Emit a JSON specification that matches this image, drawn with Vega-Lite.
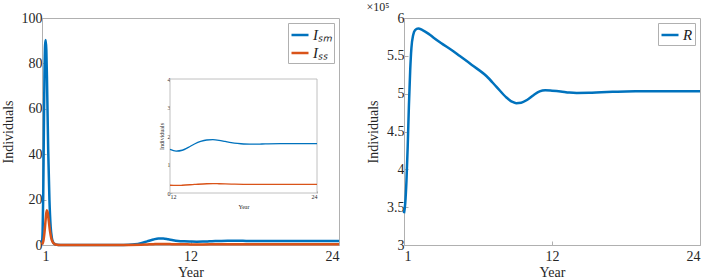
{
  "$schema": "https://vega.github.io/schema/vega-lite/v6.json",
  "padding": {"left": 0, "top": 0, "right": 0, "bottom": 0},
  "bounds": "flush",
  "spacing": 65,
  "config": {
    "font": "Liberation Serif",
    "view": {"stroke": "#b0b0b0", "strokeWidth": 1},
    "axis": {
      "labelFont": "Liberation Serif",
      "labelFontSize": 14,
      "labelColor": "#262626",
      "titleFont": "Liberation Serif",
      "titleFontSize": 14,
      "titleFontWeight": "normal",
      "titleColor": "#262626",
      "domainColor": "#b0b0b0",
      "tickColor": "#b0b0b0",
      "tickSize": -4,
      "grid": false,
      "labelPadding": 4
    },
    "legend": {
      "orient": "top-right",
      "offset": 5,
      "strokeColor": "#b0b0b0",
      "fillColor": "white",
      "padding": 2,
      "symbolType": "stroke",
      "symbolStrokeWidth": 2.5,
      "symbolSize": 289,
      "labelFont": "Liberation Serif",
      "labelFontSize": 15,
      "labelFontStyle": "italic",
      "labelColor": "#222222",
      "rowPadding": 0,
      "labelOffset": 3
    }
  },
  "datasets": {
    "infected": [
      {"t": 0, "series": "I_SM", "value": 1.0},
      {"t": 0.05, "series": "I_SM", "value": 6},
      {"t": 0.1, "series": "I_SM", "value": 22},
      {"t": 0.15, "series": "I_SM", "value": 50},
      {"t": 0.2, "series": "I_SM", "value": 75},
      {"t": 0.25, "series": "I_SM", "value": 88},
      {"t": 0.3, "series": "I_SM", "value": 90.3},
      {"t": 0.35, "series": "I_SM", "value": 86},
      {"t": 0.4, "series": "I_SM", "value": 74},
      {"t": 0.45, "series": "I_SM", "value": 58},
      {"t": 0.5, "series": "I_SM", "value": 42},
      {"t": 0.6, "series": "I_SM", "value": 20},
      {"t": 0.7, "series": "I_SM", "value": 8},
      {"t": 0.8, "series": "I_SM", "value": 3},
      {"t": 0.9, "series": "I_SM", "value": 1.2},
      {"t": 1.0, "series": "I_SM", "value": 0.5},
      {"t": 1.2, "series": "I_SM", "value": 0.12},
      {"t": 1.5, "series": "I_SM", "value": 0.04},
      {"t": 2, "series": "I_SM", "value": 0.02},
      {"t": 3, "series": "I_SM", "value": 0.01},
      {"t": 4, "series": "I_SM", "value": 0.01},
      {"t": 5, "series": "I_SM", "value": 0.01},
      {"t": 6, "series": "I_SM", "value": 0.02},
      {"t": 6.5, "series": "I_SM", "value": 0.04},
      {"t": 7, "series": "I_SM", "value": 0.1},
      {"t": 7.5, "series": "I_SM", "value": 0.3},
      {"t": 8, "series": "I_SM", "value": 0.8},
      {"t": 8.5, "series": "I_SM", "value": 1.6},
      {"t": 9, "series": "I_SM", "value": 2.4},
      {"t": 9.4, "series": "I_SM", "value": 2.9},
      {"t": 9.8, "series": "I_SM", "value": 2.85},
      {"t": 10.2, "series": "I_SM", "value": 2.5},
      {"t": 10.6, "series": "I_SM", "value": 2.1},
      {"t": 11, "series": "I_SM", "value": 1.8},
      {"t": 11.5, "series": "I_SM", "value": 1.62},
      {"t": 12, "series": "I_SM", "value": 1.53},
      {"t": 12.5, "series": "I_SM", "value": 1.47},
      {"t": 13, "series": "I_SM", "value": 1.5},
      {"t": 13.5, "series": "I_SM", "value": 1.6},
      {"t": 14, "series": "I_SM", "value": 1.72},
      {"t": 14.5, "series": "I_SM", "value": 1.81},
      {"t": 15, "series": "I_SM", "value": 1.86},
      {"t": 15.5, "series": "I_SM", "value": 1.87},
      {"t": 16, "series": "I_SM", "value": 1.85},
      {"t": 16.5, "series": "I_SM", "value": 1.81},
      {"t": 17, "series": "I_SM", "value": 1.77},
      {"t": 17.5, "series": "I_SM", "value": 1.74},
      {"t": 18, "series": "I_SM", "value": 1.72},
      {"t": 18.5, "series": "I_SM", "value": 1.715},
      {"t": 19, "series": "I_SM", "value": 1.715},
      {"t": 19.5, "series": "I_SM", "value": 1.72},
      {"t": 20, "series": "I_SM", "value": 1.725},
      {"t": 21, "series": "I_SM", "value": 1.73},
      {"t": 22, "series": "I_SM", "value": 1.735},
      {"t": 23, "series": "I_SM", "value": 1.735},
      {"t": 24, "series": "I_SM", "value": 1.735},
      {"t": 0, "series": "I_SS", "value": 0.3},
      {"t": 0.1, "series": "I_SS", "value": 1.5},
      {"t": 0.2, "series": "I_SS", "value": 5.5},
      {"t": 0.3, "series": "I_SS", "value": 11.5},
      {"t": 0.38, "series": "I_SS", "value": 15.3},
      {"t": 0.45, "series": "I_SS", "value": 14.5},
      {"t": 0.55, "series": "I_SS", "value": 10.5},
      {"t": 0.65, "series": "I_SS", "value": 6},
      {"t": 0.75, "series": "I_SS", "value": 3},
      {"t": 0.85, "series": "I_SS", "value": 1.4},
      {"t": 1.0, "series": "I_SS", "value": 0.5},
      {"t": 1.2, "series": "I_SS", "value": 0.15},
      {"t": 1.5, "series": "I_SS", "value": 0.05},
      {"t": 2, "series": "I_SS", "value": 0.02},
      {"t": 4, "series": "I_SS", "value": 0.01},
      {"t": 6, "series": "I_SS", "value": 0.01},
      {"t": 7, "series": "I_SS", "value": 0.03},
      {"t": 8, "series": "I_SS", "value": 0.12},
      {"t": 8.5, "series": "I_SS", "value": 0.25},
      {"t": 9, "series": "I_SS", "value": 0.36},
      {"t": 9.5, "series": "I_SS", "value": 0.44},
      {"t": 10, "series": "I_SS", "value": 0.44},
      {"t": 10.5, "series": "I_SS", "value": 0.38},
      {"t": 11, "series": "I_SS", "value": 0.32},
      {"t": 11.5, "series": "I_SS", "value": 0.285},
      {"t": 12, "series": "I_SS", "value": 0.272},
      {"t": 12.5, "series": "I_SS", "value": 0.265},
      {"t": 13, "series": "I_SS", "value": 0.272},
      {"t": 14, "series": "I_SS", "value": 0.3},
      {"t": 15, "series": "I_SS", "value": 0.325},
      {"t": 15.5, "series": "I_SS", "value": 0.33},
      {"t": 16, "series": "I_SS", "value": 0.325},
      {"t": 17, "series": "I_SS", "value": 0.312},
      {"t": 18, "series": "I_SS", "value": 0.303},
      {"t": 19, "series": "I_SS", "value": 0.3},
      {"t": 20, "series": "I_SS", "value": 0.3},
      {"t": 22, "series": "I_SS", "value": 0.302},
      {"t": 24, "series": "I_SS", "value": 0.302}
    ],
    "recovered": [
      {"t": 0, "series": "R", "value": 342000},
      {"t": 0.1, "series": "R", "value": 355000},
      {"t": 0.2, "series": "R", "value": 385000},
      {"t": 0.3, "series": "R", "value": 430000},
      {"t": 0.4, "series": "R", "value": 485000},
      {"t": 0.5, "series": "R", "value": 530000},
      {"t": 0.6, "series": "R", "value": 560000},
      {"t": 0.75, "series": "R", "value": 578000},
      {"t": 0.9, "series": "R", "value": 584000},
      {"t": 1.15, "series": "R", "value": 586000},
      {"t": 1.5, "series": "R", "value": 584000},
      {"t": 2, "series": "R", "value": 579000},
      {"t": 2.4, "series": "R", "value": 574000},
      {"t": 3, "series": "R", "value": 567000},
      {"t": 4, "series": "R", "value": 556000},
      {"t": 4.5, "series": "R", "value": 550000},
      {"t": 5.5, "series": "R", "value": 538000},
      {"t": 6.7, "series": "R", "value": 523000},
      {"t": 7.5, "series": "R", "value": 509000},
      {"t": 8.3, "series": "R", "value": 495000},
      {"t": 8.8, "series": "R", "value": 489000},
      {"t": 9.1, "series": "R", "value": 487500},
      {"t": 9.5, "series": "R", "value": 488000},
      {"t": 10, "series": "R", "value": 492000},
      {"t": 10.5, "series": "R", "value": 498000},
      {"t": 11, "series": "R", "value": 503000},
      {"t": 11.45, "series": "R", "value": 504500},
      {"t": 12, "series": "R", "value": 504000},
      {"t": 12.7, "series": "R", "value": 503000},
      {"t": 13.4, "series": "R", "value": 501500},
      {"t": 14, "series": "R", "value": 501000},
      {"t": 15, "series": "R", "value": 501200},
      {"t": 16, "series": "R", "value": 502000},
      {"t": 17, "series": "R", "value": 502500},
      {"t": 18, "series": "R", "value": 503000},
      {"t": 20, "series": "R", "value": 503200},
      {"t": 22, "series": "R", "value": 503200},
      {"t": 24, "series": "R", "value": 503200}
    ]
  },
  "resolve": {"scale": {"color": "independent"}, "legend": {"color": "independent"}},
  "hconcat": [
    {
      "width": 297,
      "height": 227,
      "layer": [
        {
          "data": {"name": "infected"},
          "mark": {"type": "line", "interpolate": "monotone", "strokeWidth": 2.5},
          "encoding": {
            "x": {
              "field": "t", "type": "quantitative",
              "scale": {"domain": [0, 24], "nice": false},
              "axis": {"orient": "bottom", "title": "Year", "values": [0, 12, 24], "labelExpr": "datum.value == 0 ? '1' : datum.label", "labelPadding": 8, "titlePadding": 2}
            },
            "y": {
              "field": "value", "type": "quantitative",
              "scale": {"domain": [0, 100], "nice": false},
              "axis": {"orient": "left", "title": "Individuals", "values": [0, 20, 40, 60, 80, 100], "titlePadding": 6}
            },
            "color": {
              "field": "series", "type": "nominal",
              "scale": {"domain": ["I_SM", "I_SS"], "range": ["#0072BD", "#D95319"]},
              "legend": {"title": null, "labelExpr": "datum.label == 'I_SM' ? 'Iₛₘ' : 'Iₛₛ'"}
            }
          }
        },
        {
          "layer": [
            {
              "data": {"values": [{}]},
              "mark": {"type": "rect", "fill": "white", "stroke": "#b0b0b0", "strokeWidth": 0.8},
              "encoding": {
                "x": {"datum": 12, "type": "quantitative", "scale": {"domain": [12, 24], "range": [128, 275], "nice": false, "zero": false}},
                "x2": {"datum": 24},
                "y": {"datum": 0, "type": "quantitative", "scale": {"domain": [0, 4], "range": [175, 61], "nice": false, "zero": false}},
                "y2": {"datum": 4}
              }
            },
            {
              "data": {"name": "infected"},
              "transform": [{"filter": "datum.t >= 12"}],
              "mark": {"type": "line", "interpolate": "monotone", "strokeWidth": 1.3},
              "encoding": {
                "x": {
                  "field": "t", "type": "quantitative",
                  "scale": {"domain": [12, 24], "range": [128, 275], "nice": false, "zero": false},
                  "axis": {"orient": "bottom", "offset": -52, "title": "Year", "values": [12, 24], "format": "d", "labelFontSize": 6, "titleFontSize": 6, "labelPadding": 2, "titlePadding": 4, "tickSize": -2, "domain": false}
                },
                "y": {
                  "field": "value", "type": "quantitative",
                  "scale": {"domain": [0, 4], "range": [175, 61], "nice": false, "zero": false},
                  "axis": {"orient": "left", "offset": -128, "title": "Individuals", "values": [0, 1, 2, 3, 4], "format": "d", "labelFontSize": 6, "titleFontSize": 6, "labelPadding": 2, "titlePadding": 3, "tickSize": -2, "domain": false}
                },
                "color": {"field": "series", "type": "nominal"}
              }
            }
          ]
        }
      ],
      "resolve": {"scale": {"x": "independent", "y": "independent"}}
    },
    {
      "width": 296,
      "height": 227,
      "title": {"text": "×10⁵", "anchor": "start", "fontSize": 12, "fontWeight": "normal", "font": "Liberation Serif", "color": "#262626", "offset": -3},
      "data": {"name": "recovered"},
      "mark": {"type": "line", "interpolate": "monotone", "strokeWidth": 2.5},
      "encoding": {
        "x": {
          "field": "t", "type": "quantitative",
          "scale": {"domain": [0, 24], "nice": false},
          "axis": {"title": "Year", "values": [0, 12, 24], "labelExpr": "datum.value == 0 ? '1' : datum.label", "labelPadding": 8, "titlePadding": 2}
        },
        "y": {
          "field": "value", "type": "quantitative",
          "scale": {"domain": [300000, 600000], "nice": false},
          "axis": {"title": "Individuals", "values": [300000, 350000, 400000, 450000, 500000, 550000, 600000], "labelExpr": "format(datum.value / 100000, '~g')", "titlePadding": 6}
        },
        "color": {
          "field": "series", "type": "nominal",
          "scale": {"domain": ["R"], "range": ["#0072BD"]},
          "legend": {"title": null}
        }
      }
    }
  ]
}
